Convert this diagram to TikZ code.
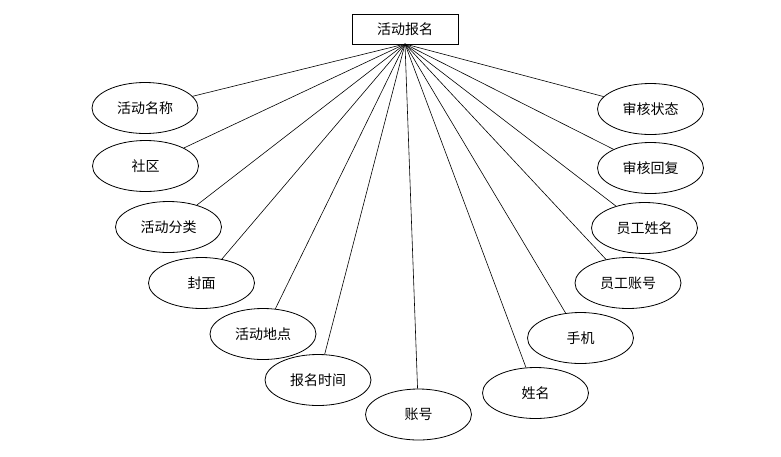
\documentclass[tikz,border=0pt]{standalone}
\usepackage{fontspec}
\newfontfamily\cjk{Noto Sans CJK SC}
\usetikzlibrary{shapes.geometric}
\begin{document}
\begin{tikzpicture}[x=1pt,y=-1pt,
  attr/.style={ellipse,draw,line width=0.8pt,minimum width=106pt,minimum height=51pt,inner sep=0pt,font=\cjk\fontsize{14}{16}\selectfont},
  ent/.style={rectangle,draw,line width=0.8pt,minimum width=106pt,minimum height=30pt,inner sep=0pt,font=\cjk\fontsize{14}{16}\selectfont},
  link/.style={line width=0.6pt}]
\useasboundingbox (0,0) rectangle (781,456);
\node[ent] (top) at (405,29) {活动报名};
\coordinate (hub) at (405,44);
\node[attr] (a1) at (145,108) {活动名称};
\node[attr] (a2) at (145.5,166) {社区};
\node[attr] (a3) at (168.5,227) {活动分类};
\node[attr] (a4) at (201.5,283) {封面};
\node[attr] (a5) at (263,334) {活动地点};
\node[attr] (a6) at (318,380) {报名时间};
\node[attr] (a7) at (418.5,414.5) {账号};
\node[attr] (a8) at (535.5,393) {姓名};
\node[attr] (a9) at (580.5,338) {手机};
\node[attr] (a10) at (628,283) {员工账号};
\node[attr] (a11) at (644.5,228) {员工姓名};
\node[attr] (a12) at (650.5,168) {审核回复};
\node[attr] (a13) at (650.5,109) {审核状态};
\foreach \n in {a1,a2,a3,a4,a5,a6,a7,a8,a9,a10,a11,a12,a13}
  \draw[link] (hub) -- (\n);
\end{tikzpicture}
\end{document}
